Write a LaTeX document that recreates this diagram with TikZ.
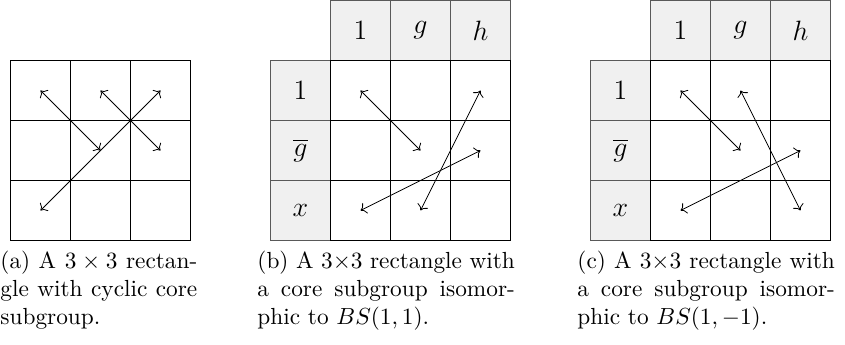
\documentclass[tikz,border=0pt]{standalone}
\usepackage{amsmath}
\usetikzlibrary{arrows.meta}
\begin{document}
\begin{tikzpicture}[
  x=0.4292pt, y=-0.4292pt,
  cell/.style={draw, minimum size=25.752pt, inner sep=0, outer sep=0, line width=0.45pt},
  lab/.style={cell, draw=black!65, fill=black!6, font=\large},
  link/.style={<->, line width=0.35pt},
  caption/.style={anchor=north west, inner sep=0, align=justify, font=\normalsize}
]
  \useasboundingbox (0,0) rectangle (845,345);

  % (a) plain rectangle
  \foreach \r in {0,1,2} {
    \foreach \c in {0,1,2} {
      \node[cell] (a\r\c) at (40.5+60*\c, 90.5+60*\r) {};
    }
  }

  % (b) and (c) rectangles with labels
  \foreach \p/\x in {b/330.5, c/650.5} {
    \foreach \t [count=\c from 0] in {1, g, h} {
      \node[lab] (\p h\c) at (\x+30+60*\c, 30.5) {$\t$};
    }
    \foreach \t [count=\r from 0] in {1, \overline{g}, x} {
      \node[lab] (\p l\r) at (\x-30, 90.5+60*\r) {$\t$};
    }
    \foreach \r in {0,1,2} {
      \foreach \c in {0,1,2} {
        \node[cell] (\p\r\c) at (\x+30+60*\c, 90.5+60*\r) {};
      }
    }
  }

  % Arrows
  \draw[link] (a00.center) -- (a11.center);
  \draw[link] (a01.center) -- (a12.center);
  \draw[link] (a02.center) -- (a20.center);

  \draw[link] (b00.center) -- (b11.center);
  \draw[link] (b02.center) -- (b21.center);
  \draw[link] (b12.center) -- (b20.center);

  \draw[link] (c00.center) -- (c11.center);
  \draw[link] (c01.center) -- (c22.center);
  \draw[link] (c12.center) -- (c20.center);

  % Captions
  \node[caption, text width=84.5pt] (capa) at (0,250.5)
    {(a) A $3\times 3$ rectan-\break gle with cyclic core\break subgroup.};
  \node[caption, text width=110.5pt] (capb) at (257,250.5)
    {(b) A $3{\times}3$ rectangle with\break a core subgroup isomor-\break phic to $BS(1,1)$.};
  \node[caption, text width=110.5pt] (capc) at (577,250.5)
    {(c) A $3{\times}3$ rectangle with\break a core subgroup isomor-\break phic to $BS(1,-1)$.};
\end{tikzpicture}
\end{document}
